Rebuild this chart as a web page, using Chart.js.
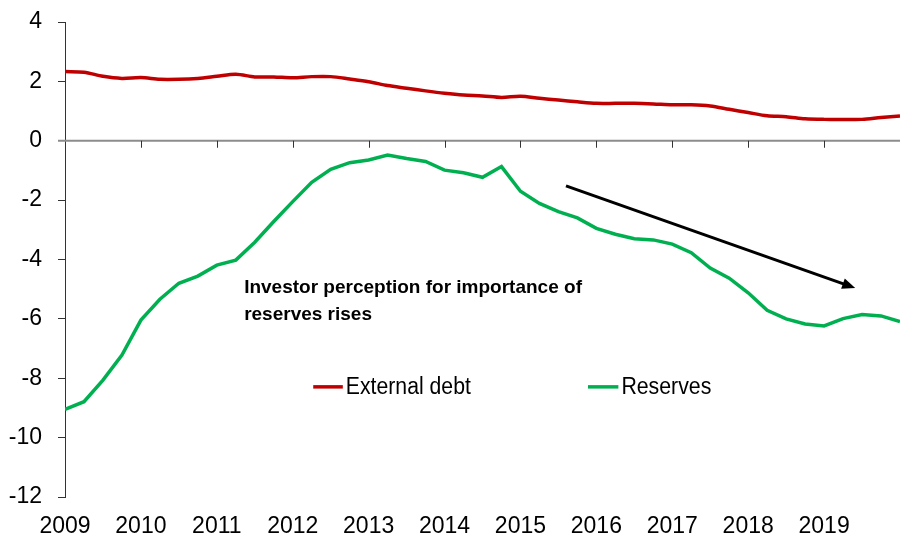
<!DOCTYPE html>
<html lang="en">
<head>
    <meta charset="UTF-8">
    <title>External debt and reserves</title>
    <script src="https://cdn.jsdelivr.net/npm/chart.js"></script>
    <style>
        body { margin: 0; background: #fff; }
        #wrap { width: 901px; height: 542px; }
    </style>
</head>
<body>
    <div id="wrap">
        <canvas id="grafico" width="901" height="542"></canvas>
    </div>
    <script>
        // quarterly, 2009 Q1 .. 2020 Q1
        const startYear = 2009;
        const tickYears = [2009, 2010, 2011, 2012, 2013, 2014, 2015, 2016, 2017, 2018, 2019];

        const externalDebt = [
            2.33, 2.31, 2.17, 2.10, 2.13, 2.07, 2.07, 2.10, 2.17, 2.24,
            2.15, 2.15, 2.12, 2.16, 2.16, 2.08, 1.99, 1.86, 1.77, 1.68,
            1.60, 1.54, 1.51, 1.46, 1.50, 1.43, 1.37, 1.31, 1.26, 1.26,
            1.26, 1.24, 1.21, 1.21, 1.17, 1.06, 0.95, 0.84, 0.81, 0.74,
            0.72, 0.72, 0.72, 0.78, 0.83
        ];
        const reserves = [
            -9.05, -8.79, -8.06, -7.22, -6.04, -5.34, -4.80, -4.56, -4.19, -4.02,
            -3.42, -2.72, -2.05, -1.40, -0.96, -0.74, -0.65, -0.48, -0.60, -0.70,
            -0.99, -1.08, -1.23, -0.87, -1.70, -2.11, -2.39, -2.60, -2.95, -3.15,
            -3.30, -3.34, -3.48, -3.77, -4.29, -4.63, -5.12, -5.71, -6.00, -6.17,
            -6.24, -5.99, -5.85, -5.90, -6.09
        ];

        const seriesNames = ['External debt', 'Reserves'];
        const noteLines = ['Investor perception for importance of', 'reserves rises'];

        const red = '#C00000';
        const green = '#00B050';
        const tickFont = "'Liberation Sans Narrow', 'Liberation Sans', Arial, sans-serif";

        function toPoints(values) {
            return values.map((v, i) => ({ x: startYear + i / 4, y: v }));
        }

        const extras = {
            id: 'extras',
            beforeDatasetsDraw(chart) {
                const { ctx, chartArea, scales } = chart;
                const y0 = scales.y.getPixelForValue(0);
                ctx.save();
                ctx.strokeStyle = '#8c8c8c';
                ctx.lineWidth = 2;
                ctx.beginPath();
                ctx.moveTo(chartArea.left - 7, y0);
                ctx.lineTo(chartArea.right, y0);
                ctx.stroke();
                ctx.strokeStyle = '#333';
                ctx.lineWidth = 1;
                ctx.beginPath();
                tickYears.slice(1).forEach(yr => {
                    const x = Math.round(scales.x.getPixelForValue(yr)) + 0.5;
                    ctx.moveTo(x, y0);
                    ctx.lineTo(x, y0 + 7);
                });
                ctx.stroke();
                ctx.restore();
            },
            afterDatasetsDraw(chart) {
                const { ctx, scales } = chart;
                const px = v => scales.x.getPixelForValue(v);
                const py = v => scales.y.getPixelForValue(v);
                ctx.save();

                // arrow
                const x1 = px(2015.6), y1 = py(-1.52);
                const x2 = px(2019.41), y2 = py(-4.96);
                const ang = Math.atan2(y2 - y1, x2 - x1);
                ctx.strokeStyle = '#000';
                ctx.fillStyle = '#000';
                ctx.lineWidth = 3;
                ctx.beginPath();
                ctx.moveTo(x1, y1);
                ctx.lineTo(x2 - 8 * Math.cos(ang), y2 - 8 * Math.sin(ang));
                ctx.stroke();
                ctx.beginPath();
                ctx.moveTo(x2, y2);
                ctx.lineTo(x2 - 13 * Math.cos(ang) + 5.5 * Math.sin(ang), y2 - 13 * Math.sin(ang) - 5.5 * Math.cos(ang));
                ctx.lineTo(x2 - 13 * Math.cos(ang) - 5.5 * Math.sin(ang), y2 - 13 * Math.sin(ang) + 5.5 * Math.cos(ang));
                ctx.closePath();
                ctx.fill();

                // note
                ctx.font = "bold 19px 'Liberation Sans Narrow', 'Liberation Sans', Arial, sans-serif";
                ctx.textAlign = 'left';
                ctx.textBaseline = 'alphabetic';
                ctx.fillText(noteLines[0], px(2011.36), py(-5.13), 338);
                ctx.fillText(noteLines[1], px(2011.36), py(-6.04), 128);

                // legend
                const ly = py(-8.29);
                const items = [
                    { name: seriesNames[0], color: red, from: 2012.27, to: 2012.66, w: 125 },
                    { name: seriesNames[1], color: green, from: 2015.89, to: 2016.29, w: 90 }
                ];
                ctx.font = "23px " + tickFont;
                ctx.textBaseline = 'middle';
                items.forEach(it => {
                    ctx.strokeStyle = it.color;
                    ctx.lineWidth = 3.5;
                    ctx.beginPath();
                    ctx.moveTo(px(it.from), ly);
                    ctx.lineTo(px(it.to), ly);
                    ctx.stroke();
                    ctx.fillStyle = '#000';
                    ctx.fillText(it.name, px(it.to) + 3, ly + 1, it.w);
                });
                ctx.restore();
            }
        };

        const ctx = document.getElementById('grafico').getContext('2d');
        const chart = new Chart(ctx, {
            type: 'line',
            data: {
                datasets: [{
                    label: seriesNames[0],
                    data: toPoints(externalDebt),
                    borderColor: red,
                    borderWidth: 3.5,
                    pointRadius: 0,
                    tension: 0.3,
                    fill: false
                }, {
                    label: seriesNames[1],
                    data: toPoints(reserves),
                    borderColor: green,
                    borderWidth: 3.5,
                    pointRadius: 0,
                    tension: 0,
                    fill: false
                }]
            },
            options: {
                responsive: false,
                animation: false,
                layout: { padding: { top: 22, right: 1, left: 0, bottom: 0 } },
                plugins: {
                    legend: { display: false },
                    tooltip: { enabled: false }
                },
                scales: {
                    x: {
                        type: 'linear',
                        min: 2009,
                        max: 2020,
                        afterFit(scale) {
                            scale.height = 45;
                            scale.paddingLeft = 0;
                            scale.paddingRight = 0;
                        },
                        grid: { display: false, drawTicks: false },
                        border: { display: false },
                        ticks: {
                            stepSize: 1,
                            padding: 16,
                            color: '#000',
                            maxRotation: 0,
                            autoSkip: false,
                            font: { family: tickFont, size: 23 },
                            callback: v => (tickYears.includes(v) ? String(v) : '')
                        }
                    },
                    y: {
                        min: -12,
                        max: 4,
                        afterFit(scale) {
                            scale.width = 65;
                            scale.paddingTop = 0;
                            scale.paddingBottom = 0;
                        },
                        grid: { drawOnChartArea: false, drawTicks: true, tickLength: 7, color: '#333' },
                        border: { display: true, color: '#333', width: 1 },
                        ticks: {
                            stepSize: 2,
                            padding: 16,
                            color: '#000',
                            font: { family: tickFont, size: 23 }
                        }
                    }
                }
            },
            plugins: [extras]
        });
    </script>
</body>
</html>
